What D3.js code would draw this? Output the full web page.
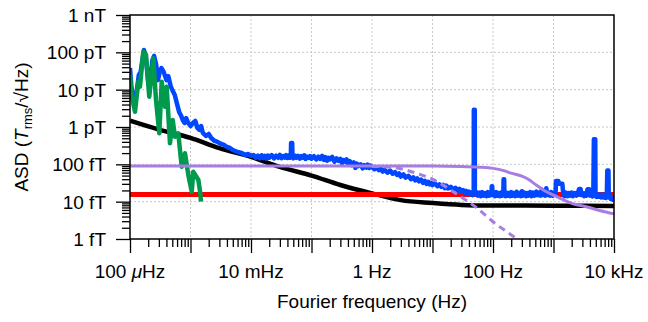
<!DOCTYPE html>
<html>
<head>
<meta charset="utf-8">
<script src="https://cdn.jsdelivr.net/npm/d3@7"></script>
<style>
  body { margin: 0; background: #fff; }
  svg text { font-family: "Liberation Sans", Arial, sans-serif; fill: #000; }
</style>
</head>
<body>
<div id="chart"></div>
<script>
// frequencies in Hz, amplitude spectral density in fT/rtHz
const blueFreq = [1e-4, 1.05e-4, 1.1e-4, 1.2e-4, 1.3e-4, 1.4e-4, 1.5e-4, 1.6e-4, 1.7e-4, 1.8e-4, 1.9e-4, 2e-4, 2.1e-4, 2.2e-4, 2.35e-4, 2.5e-4, 2.7e-4, 2.9e-4, 3.1e-4, 3.3e-4, 3.6e-4, 4e-4, 4.3e-4, 4.7e-4, 5e-4, 5.5e-4, 6e-4, 6.5e-4, 7e-4, 7.5e-4, 8e-4, 8.5e-4, 9e-4,
  1e-3, 1.1e-3, 1.2e-3, 1.3e-3, 1.4e-3, 1.5e-3, 1.6e-3, 1.8e-3, 2e-3, 2.2e-3, 2.5e-3, 2.8e-3, 3.2e-3, 3.6e-3, 4e-3, 4.5e-3, 5e-3, 6e-3, 7e-3, 8e-3, 9e-3,
  0.010, 0.011, 0.012, 0.013, 0.014, 0.015, 0.016, 0.017, 0.018, 0.019, 0.020, 0.022, 0.024, 0.026, 0.028, 0.030, 0.032, 0.034, 0.036, 0.038, 0.040, 0.042, 0.044, 0.0455, 0.046, 0.048, 0.0485, 0.050, 0.053, 0.056, 0.060, 0.064, 0.068, 0.072, 0.076, 0.080, 0.085, 0.090, 0.095,
  0.10, 0.11, 0.12, 0.13, 0.14, 0.15, 0.16, 0.17, 0.18, 0.19, 0.20, 0.22, 0.24, 0.26, 0.28, 0.30, 0.32, 0.34, 0.36, 0.38, 0.40, 0.43, 0.46, 0.50, 0.53, 0.56, 0.60, 0.65, 0.70, 0.75, 0.80, 0.85, 0.90, 0.95,
  1.0, 1.1, 1.2, 1.3, 1.4, 1.5, 1.6, 1.8, 2.0, 2.2, 2.4, 2.6, 2.8, 3.0, 3.3, 3.6, 4.0, 4.4, 4.8, 5.2, 5.6, 6.0, 6.5, 7.0, 7.5, 8.0, 8.5, 9.0, 9.5,
  10, 11, 12, 13, 14, 15, 16, 17, 18, 20, 22, 24, 26, 28, 30, 32, 34, 36, 38, 40, 42, 44, 46, 47.5, 48, 48.2, 50, 50.2,
  53, 56, 60, 63, 66, 70, 74, 78, 82, 86, 90, 94, 95.5, 97, 98.5, 103, 108, 113, 118, 124, 130, 136, 142, 148, 149.5, 153, 154.5, 160, 167, 175, 183, 192, 200, 210, 220, 232, 245, 258, 272, 286, 300, 315, 330, 350, 370, 390, 410, 435, 460, 490, 520, 550, 580, 610, 640, 670, 700, 730, 760, 790, 830, 870, 920, 970, 1020,
  1080, 1100, 1200, 1250, 1400, 1450, 1520, 1600, 1700, 1800, 1900, 2000, 2100, 2250, 2400, 2550, 2650, 2800, 2900, 3050, 3200, 3350, 3500, 3650, 3900, 4050, 4200, 4400, 4550, 4650, 4900, 4950, 5100, 5300, 5500, 5800, 6100, 6400, 6700, 7000, 7300, 7600, 7750, 8100, 8200, 8500, 8800, 9200, 9600, 10000];
const blueAsd = [38000, 13000, 7200, 4700, 9800, 25000, 30000, 62000, 115000, 85000, 38000, 16000, 11000, 25000, 62000, 80000, 48000, 18000, 30000, 38000, 30000, 18000, 23000, 12500, 9800, 7200, 4100, 2500, 2000, 1500, 1280, 1740, 1360,
  1060, 1280, 1450, 940, 832, 1060, 691, 575, 650, 508, 422, 397, 351, 330, 291, 274, 242, 214, 201, 178, 189,
  167, 178, 150, 170, 145, 175, 148, 168, 142, 172, 150, 176, 145, 170, 150, 178, 146, 165, 152, 176, 148, 170, 150, 160, 373, 373, 160, 145, 172, 150, 168, 142, 165, 150, 175, 140, 162, 148, 166,
  142, 165, 135, 160, 140, 168, 132, 155, 125, 150, 135, 158, 118, 145, 125, 140, 108, 130, 118, 135, 100, 122, 95, 112, 80, 105, 90, 100, 78, 95, 82, 98, 80, 92,
  85, 74, 82, 70, 76, 64, 72, 60, 68, 56, 62, 52, 57, 47, 54, 44, 49, 40, 45, 37, 42, 35, 39, 32, 36, 30, 34, 29, 32,
  28, 31, 26, 29, 25, 28, 23, 27, 22.5, 25, 21, 23.5, 19.5, 22, 18.5, 20.5, 17.5, 19.5, 16.5, 18.5, 15.5, 17.5, 15, 16.5, 16, 2900, 2900, 16,
  18, 14.5, 17.5, 14, 18, 14.5, 17, 14, 18, 14.5, 17, 15, 26, 26, 15, 17.5, 14, 18, 14.5, 17, 14, 17.5, 14.5, 16, 40, 40, 16, 14, 17.5, 14.5, 17, 14, 18, 14.5, 17, 14, 18.5, 14.5, 17, 14, 19, 14.5, 17.5, 14, 17, 14.5, 18, 14, 17.5, 14.5, 18.5, 15, 17.5, 14.5, 21, 15, 17, 14.5, 23, 15, 17.5, 14.5, 18, 14.5, 17,
  16, 35.8, 35.8, 30, 30, 16, 14, 17.5, 14, 17, 14.5, 17.5, 14, 17, 14.5, 18, 22, 22, 15, 17, 14, 17, 14.5, 21.5, 21.5, 14.5, 16.5, 13.8, 16, 470, 470, 14.5, 13.5, 16, 13.5, 15.5, 13, 15.5, 13, 15, 12.5, 14.5, 68, 68, 13, 14, 12, 12.5, 11.2, 11];

const greenFreq = [1e-4, 1.07e-4, 1.21e-4, 1.37e-4, 1.46e-4, 1.66e-4, 1.84e-4, 2.08e-4, 2.43e-4, 2.69e-4, 3.05e-4, 3.34e-4, 3.79e-4, 4.04e-4, 4.58e-4, 5.08e-4, 5.54e-4, 6.28e-4, 7.16e-4, 8.11e-4, 9.2e-4, 1.05e-3, 1.11e-3, 1.35e-3, 1.44e-3, 1.49e-3];
const greenAsd = [24700, 6500, 2570, 16400, 12000, 104000, 85000, 6500, 69300, 5290, 679, 16400, 3500, 12000, 366, 1540, 550, 679, 86.5, 198, 52, 18.5, 63.5, 38, 18.5, 10];

const blackFreq = [1e-4, 3e-4, 1e-3, 3e-3, 1e-2, 3e-2, 0.1, 0.3, 1, 3, 10, 30, 100, 1000, 10000];
const blackAsd = [1470, 850, 510, 270, 158, 85, 50, 28, 16.7, 11, 9.2, 8.2, 7.9, 7.8, 7.7];

const redFreq = [1e-4, 1e4];
const redAsd = [15.5, 15.5];

const purpleFreq = [1e-4, 10, 30, 60, 100, 150, 200, 300, 400, 500, 700, 1000, 1500, 2000, 3500, 6000, 10000];
const purpleAsd = [90, 90, 88, 84, 78, 68, 58, 48, 38, 29, 20, 15, 11, 9, 7.3, 5.7, 4.7];

const dashFreq = [1, 2, 3, 5, 10, 25, 54, 100, 250, 300];
const dashAsd = [88, 84, 76, 60, 40, 16, 6.8, 2.9, 1.0, 0.8];

const xTickLabels = { '-4': ['100 ', 'μ', 'Hz'], '-2': ['10 mHz'], '0': ['1 Hz'], '2': ['100 Hz'], '4': ['10 kHz'] };
const yTickLabels = ['1 fT', '10 fT', '100 fT', '1 pT', '10 pT', '100 pT', '1 nT'];

const W = 648, H = 322;
const margin = { top: 15, right: 34, bottom: 83, left: 130 };
const width = W - margin.left - margin.right;
const height = H - margin.top - margin.bottom;

const svg = d3.select('#chart').append('svg')
  .attr('width', W)
  .attr('height', H);

svg.append('clipPath').attr('id', 'clip')
  .append('rect').attr('width', width).attr('height', height);

const chart = svg.append('g')
  .attr('transform', `translate(${margin.left},${margin.top})`);

const x = d3.scaleLog().domain([1e-4, 1e4]).range([0, width]);
const y = d3.scaleLog().domain([1, 1e6]).range([height, 0]);

const decadesX = d3.range(-4, 5).map(e => Math.pow(10, e));
const decadesY = d3.range(0, 7).map(e => Math.pow(10, e));
const minorX = [];
decadesX.slice(0, -1).forEach(d => { for (let k = 2; k < 10; k++) minorX.push(d * k); });
const minorY = [];
decadesY.slice(0, -1).forEach(d => { for (let k = 2; k < 10; k++) minorY.push(d * k); });

// grid
chart.append('g').selectAll('line').data(decadesX.slice(1, -1)).join('line')
  .attr('x1', d => x(d)).attr('x2', d => x(d))
  .attr('y1', 0).attr('y2', height)
  .attr('stroke', '#c8c8c8').attr('stroke-width', 1).attr('stroke-dasharray', '2,2');
chart.append('g').selectAll('line').data(decadesY.slice(1, -1)).join('line')
  .attr('y1', d => y(d)).attr('y2', d => y(d))
  .attr('x1', 0).attr('x2', width)
  .attr('stroke', '#c8c8c8').attr('stroke-width', 1).attr('stroke-dasharray', '2,2');

// axes (ticks only, labels added below)
const xMinorAxis = d3.axisBottom(x).tickValues(minorX).tickSize(8).tickSizeOuter(0).tickFormat('');
const xMajorAxis = d3.axisBottom(x).tickValues(decadesX).tickSize(14).tickSizeOuter(0).tickFormat('');
const yMinorAxis = d3.axisLeft(y).tickValues(minorY).tickSize(8).tickSizeOuter(0).tickFormat('');
const yMajorAxis = d3.axisLeft(y).tickValues(decadesY).tickSize(14).tickSizeOuter(0).tickFormat('');

[xMinorAxis, xMajorAxis].forEach(a => {
  chart.append('g').attr('transform', `translate(0,${height})`).call(a)
    .call(g => g.select('.domain').remove())
    .selectAll('line').attr('stroke-width', 1.3);
});
[yMinorAxis, yMajorAxis].forEach(a => {
  chart.append('g').call(a)
    .call(g => g.select('.domain').remove())
    .selectAll('line').attr('stroke-width', 1.3);
});

// series
const line = d3.line().x(d => x(d[0])).y(d => y(d[1]));
const smooth = d3.line().x(d => x(d[0])).y(d => y(d[1])).curve(d3.curveMonotoneX);
const zip = (a, b) => a.map((v, i) => [v, b[i]]);

const plot = chart.append('g').attr('clip-path', 'url(#clip)');

plot.append('path').datum(zip(blackFreq, blackAsd))
  .attr('d', smooth).attr('fill', 'none').attr('stroke', '#000').attr('stroke-width', 4.5);
plot.append('path').datum(zip(redFreq, redAsd))
  .attr('d', line).attr('fill', 'none').attr('stroke', '#ff0000').attr('stroke-width', 5);
plot.append('path').datum(zip(blueFreq, blueAsd))
  .attr('d', line).attr('fill', 'none').attr('stroke', '#0047ff').attr('stroke-width', 4.5)
  .attr('stroke-linejoin', 'round');
plot.append('path').datum(zip(greenFreq, greenAsd))
  .attr('d', line).attr('fill', 'none').attr('stroke', '#009a4e').attr('stroke-width', 4.5)
  .attr('stroke-linejoin', 'round');
plot.append('path').datum(zip(dashFreq, dashAsd))
  .attr('d', smooth).attr('fill', 'none').attr('stroke', '#a77de2').attr('stroke-width', 3)
  .attr('stroke-dasharray', '7,5');
plot.append('path').datum(zip(purpleFreq, purpleAsd))
  .attr('d', smooth).attr('fill', 'none').attr('stroke', '#a77de2').attr('stroke-width', 3);

// frame
chart.append('rect')
  .attr('width', width).attr('height', height)
  .attr('fill', 'none').attr('stroke', '#000').attr('stroke-width', 1.5);

// tick labels
const xl = chart.append('g').selectAll('text').data(Object.keys(xTickLabels)).join('text')
  .attr('x', d => x(Math.pow(10, +d)))
  .attr('y', height + 39)
  .attr('text-anchor', 'middle')
  .style('font-size', '19px');
xl.each(function (d) {
  const parts = xTickLabels[d];
  parts.forEach(p => {
    d3.select(this).append('tspan').text(p).style('font-style', p === 'μ' ? 'italic' : 'normal');
  });
});

chart.append('g').selectAll('text').data(decadesY).join('text')
  .attr('x', -24)
  .attr('y', d => y(d))
  .attr('dy', '0.36em')
  .attr('text-anchor', 'end')
  .style('font-size', '19px')
  .text((d, i) => yTickLabels[i]);

// axis titles
chart.append('text')
  .attr('x', width / 2)
  .attr('y', height + 69)
  .attr('text-anchor', 'middle')
  .style('font-size', '19px')
  .text('Fourier frequency (Hz)');

const yt = svg.append('text')
  .attr('transform', `translate(28,${margin.top + height / 2}) rotate(-90)`)
  .attr('text-anchor', 'middle')
  .style('font-size', '19px');
yt.append('tspan').text('ASD (');
yt.append('tspan').text('T').style('font-style', 'italic');
yt.append('tspan').text('rms').attr('dy', 4).style('font-size', '13px');
yt.append('tspan').text('/√Hz)').attr('dy', -4);
</script>
</body>
</html>
